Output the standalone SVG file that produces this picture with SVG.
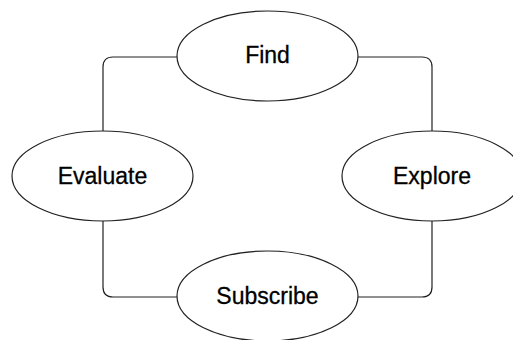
<svg xmlns="http://www.w3.org/2000/svg" width="513" height="340" viewBox="0 0 513 340">
<style>
.node ellipse{fill:#fff;stroke:#222;stroke-width:1.2}
.node text{font-family:"Liberation Sans",Arial,sans-serif;font-size:23px;fill:#000;stroke:#000;stroke-width:0.3;text-anchor:middle}
.conn path{fill:none;stroke:#222;stroke-width:1.2}
</style>
<rect width="513" height="340" fill="#fff"/>
<g id="connectors" class="conn">
<path d="M177,57 H113 Q103,57 103,67 V131"/>
<path d="M358,57 H422 Q432,57 432,67 V131"/>
<path d="M103,221 V287 Q103,297 113,297 H177"/>
<path d="M432,221 V287 Q432,297 422,297 H358"/>
</g>
<g id="find" class="node">
<ellipse cx="267.5" cy="56" rx="90.5" ry="45"/>
<text x="267.5" y="63">Find</text>
</g>
<g id="evaluate" class="node">
<ellipse cx="102.5" cy="176" rx="90.5" ry="45"/>
<text x="102.5" y="184">Evaluate</text>
</g>
<g id="explore" class="node">
<ellipse cx="432" cy="176" rx="90" ry="45"/>
<text x="432" y="184">Explore</text>
</g>
<g id="subscribe" class="node">
<ellipse cx="267.5" cy="296" rx="90.5" ry="45"/>
<text x="267.5" y="304">Subscribe</text>
</g>
</svg>
